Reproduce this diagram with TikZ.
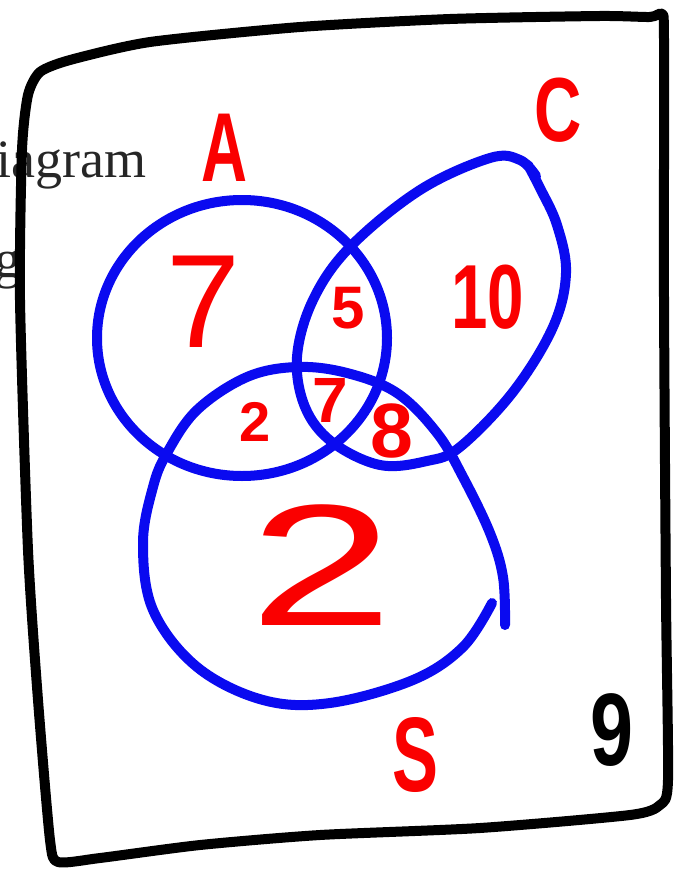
\documentclass[tikz,border=0pt]{standalone}
\usepackage{fontspec}
\setmainfont{Liberation Sans}
\newfontfamily\pagefont{Liberation Serif}
\usetikzlibrary{positioning}
\definecolor{penblue}{RGB}{10,10,240}
\definecolor{penred}{RGB}{250,0,0}

\tikzset{
  setline/.style={penblue, line width=10pt, line cap=round, line join=round},
  frameline/.style={black, line width=10pt, line cap=round, line join=round},
  hand/.style={penred, inner sep=0pt},
  pagetext/.style={anchor=base west, inner sep=0pt, black!85, font=\pagefont\fs{54}},
}
\newcommand{\fs}[1]{\fontsize{#1}{#1}\selectfont}

\begin{document}
\begin{tikzpicture}[x=1pt,y=-1pt]
  \useasboundingbox (0,0) rectangle (680,869);
  % page behind the sketch
  \node[pagetext] (word) at (-4,178) {iagram};
  \node[pagetext] (wordg) at (-6,277) {g};

  % universe frame
  \draw[frameline] plot[smooth cycle, tension=0.4] coordinates {
    (28,95) (40,72) (70,60) (150,42) (300,27) (450,19) (600,16) (650,17)
    (662,14) (664,40) (664,300) (666,600) (668,780) (660,805) (630,815)
    (480,828) (320,835) (200,845) (100,858) (58,862) (50,840) (38,700)
    (28,550) (20,300) (22,150)};

  % the three sets
  \draw[setline] (242,338) ellipse [x radius=145, y radius=138];
  \draw[setline] plot[smooth, tension=0.6] coordinates {
    (536,176) (520,160) (490,158) (420,190) (350,247) (313,300) (297,357)
    (305,407) (332,442) (380,465) (427,461) (460,447) (513,392) (553,327)
    (566,273) (557,225) (540,188) (528,165)};
  \draw[setline] plot[smooth, tension=0.6] coordinates {
    (492,603) (463,647) (413,680) (330,703) (263,700) (197,667) (153,610)
    (143,543) (153,487) (167,453) (197,410) (247,377) (297,367) (347,373)
    (397,393) (437,433) (463,477) (490,533) (503,577) (505,625)};

  % set names
  \node[hand, font=\bfseries\fs{98}, xscale=0.65] (setA) at (224,148) {A};
  \node[hand, font=\bfseries\fs{91}, xscale=0.72] (setC) at (558,110) {C};
  \node[hand, font=\bfseries\fs{106}, xscale=0.65] (setS) at (415,755) {S};
  \node[inner sep=0pt, font=\bfseries\fs{103}, xscale=0.75] (uni) at (612,730) {9};

  % counts
  \node[hand, font=\fs{133}] (nA) at (203,302) {7};
  \node[hand, font=\bfseries\fs{60}] (nAC) at (348,308) {5};
  \node[hand, font=\bfseries\fs{91}, xscale=0.72] (nC) at (488,297) {10};
  \node[hand, font=\bfseries\fs{56}] (nAS) at (255,422) {2};
  \node[hand, font=\bfseries\fs{64}] (nACS) at (330,400) {7};
  \node[hand, font=\bfseries\fs{77}] (nCS) at (392,431) {8};
  \node[hand, font=\fs{173}, xscale=1.5] (nS) at (322,565) {2};
\end{tikzpicture}
\end{document}
